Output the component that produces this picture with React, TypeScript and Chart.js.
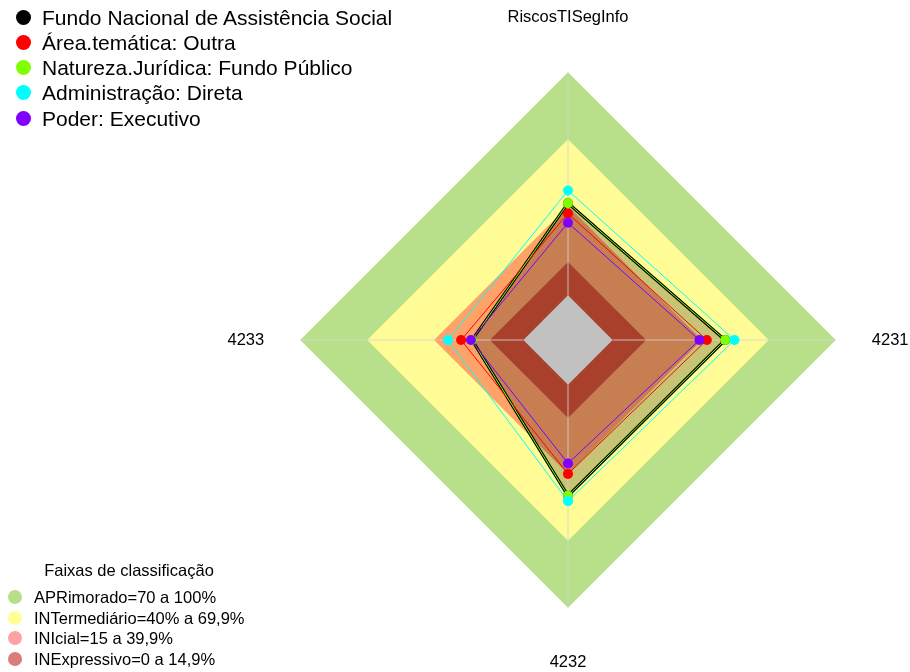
import React, { useEffect, useRef } from 'react';
import { Chart, registerables } from 'chart.js';

Chart.register(...registerables);

// ---- data ----
const axisLabels = ['RiscosTISegInfo', '4231', '4232', '4233'];

const seriesNames = [
  'Fundo Nacional de Assistência Social',
  'Área.temática: Outra',
  'Natureza.Jurídica: Fundo Público',
  'Administração: Direta',
  'Poder: Executivo',
];
const fundoValues = [41.3, 50.4, 49.8, 23.0];
const areaValues = [36.7, 42.2, 40.0, 27.9];
const naturezaValues = [41.3, 50.4, 49.8, 23.0];
const adminValues = [47.0, 54.6, 52.2, 33.8];
const poderValues = [32.5, 38.9, 35.3, 23.5];
const seriesColors = ['#000000', '#FF0000', '#7FFF00', '#00FFFF', '#7F00FF'];

const bandTitle = 'Faixas de classificação';
const bandNames = [
  'APRimorado=70 a 100%',
  'INTermediário=40% a 69,9%',
  'INIcial=15 a 39,9%',
  'INExpressivo=0 a 14,9%',
];
const bandUpper = [100, 70, 40, 15];
const belowZeroUpper = 0;
const scaleMin = -20;
const scaleMax = 100;

// ---- styles ----
const bandFills = ['rgb(184,224,139)', 'rgb(255,252,150)', 'rgb(255,162,104)', 'rgb(168,64,44)'];
const belowZeroFill = 'rgb(192,192,192)';
const bandLegendColors = ['rgb(183,222,136)', 'rgb(255,255,150)', 'rgb(255,162,162)', 'rgb(218,124,124)'];
const labelPadding = [44.4, 36, 44.4, 36];

const FONT = "'Liberation Sans', Arial, Helvetica, sans-serif";
const GREY_INDEX = 9;

const axisLinesPlugin = {
  id: 'axisLines',
  afterDatasetDraw(chart: any, args: any) {
    if (args.index !== GREY_INDEX) return;
    const scale = chart.scales.r;
    const ctx = chart.ctx;
    ctx.save();
    ctx.strokeStyle = 'rgba(210,210,210,0.85)';
    ctx.lineWidth = 1;
    for (let i = 0; i < axisLabels.length; i++) {
      const a = scale.getPointPositionForValue(i, belowZeroUpper);
      const b = scale.getPointPositionForValue(i, scaleMax);
      ctx.beginPath();
      ctx.moveTo(a.x, a.y);
      ctx.lineTo(b.x, b.y);
      ctx.stroke();
    }
    ctx.restore();
  },
};

export default function App() {
  const canvasRef = useRef<HTMLCanvasElement>(null);

  useEffect(() => {
    const canvas = canvasRef.current;
    if (!canvas) return;
    Chart.defaults.font.family = FONT;

    const seriesValues = [fundoValues, areaValues, naturezaValues, adminValues, poderValues];
    const seriesOrder = [9, 4, 3, 2, 1];

    const seriesDatasets = seriesValues.map((vals, i) => ({
      label: seriesNames[i],
      data: vals,
      order: seriesOrder[i],
      borderColor: seriesColors[i],
      backgroundColor: i === 0 ? 'rgba(0,0,0,0.22)' : 'rgba(0,0,0,0)',
      fill: i === 0 ? 'start' : false,
      borderWidth: i === 0 ? 3 : 1,
      pointRadius: 5,
      pointBorderWidth: 0,
      pointBackgroundColor: seriesColors[i],
      pointBorderColor: seriesColors[i],
      tension: 0,
    }));

    const bandOrder = [12, 11, 10, 8];
    const bandDatasets = bandUpper.map((u, i) => ({
      label: bandNames[i],
      data: axisLabels.map(() => u),
      order: bandOrder[i],
      borderWidth: 0,
      borderColor: 'rgba(0,0,0,0)',
      backgroundColor: bandFills[i],
      fill: 'start',
      pointRadius: 0,
      pointHitRadius: 0,
    }));

    const greyDataset = {
      label: 'abaixo de zero',
      data: axisLabels.map(() => belowZeroUpper),
      order: 7,
      borderWidth: 0,
      borderColor: 'rgba(0,0,0,0)',
      backgroundColor: belowZeroFill,
      fill: 'start',
      pointRadius: 0,
      pointHitRadius: 0,
    };

    const chart = new Chart(canvas, {
      type: 'radar',
      data: {
        labels: axisLabels,
        datasets: [...seriesDatasets, ...bandDatasets, greyDataset] as any,
      },
      options: {
        animation: false,
        responsive: false,
        maintainAspectRatio: false,
        events: [],
        layout: { padding: { left: 226, right: 0, top: 8, bottom: 0 } },
        plugins: {
          legend: { display: false },
          tooltip: { enabled: false },
          title: { display: false },
        },
        scales: {
          r: {
            min: scaleMin,
            max: scaleMax,
            ticks: { display: false },
            grid: { display: false },
            angleLines: { display: false },
            pointLabels: {
              display: true,
              color: '#000',
              font: { size: 16.5, family: FONT },
              padding: (ctx: any) => labelPadding[ctx.index],
            },
          },
        },
      } as any,
      plugins: [axisLinesPlugin],
    });

    return () => chart.destroy();
  }, []);

  const topItemCenters = [17, 42.2, 67.5, 92.8, 118];
  const bottomItemCenters = [597, 617.5, 638, 658.5];

  return (
    <div style={{ position: 'fixed', left: 0, top: 0, width: 910, height: 672, background: '#fff', fontFamily: FONT }}>
      <canvas ref={canvasRef} width={910} height={672} style={{ position: 'absolute', left: 0, top: 0 }} />
      {seriesNames.map((name, i) => (
        <div
          key={name}
          style={{
            position: 'absolute',
            left: 0,
            top: topItemCenters[i] - 12.5,
            height: 25,
            lineHeight: '25px',
            whiteSpace: 'nowrap',
            fontSize: 21,
            color: '#000',
          }}
        >
          <span
            style={{
              position: 'absolute',
              left: 15.5,
              top: 5,
              width: 15,
              height: 15,
              borderRadius: '50%',
              background: seriesColors[i],
            }}
          />
          <span style={{ position: 'absolute', left: 42, top: 0 }}>{name}</span>
        </div>
      ))}
      <div
        style={{
          position: 'absolute',
          left: 0,
          width: 258,
          top: 570 - 10,
          height: 20,
          lineHeight: '20px',
          fontSize: 16.5,
          textAlign: 'center',
          whiteSpace: 'nowrap',
          color: '#000',
        }}
      >
        {bandTitle}
      </div>
      {bandNames.map((name, i) => (
        <div
          key={name}
          style={{
            position: 'absolute',
            left: 0,
            top: bottomItemCenters[i] - 10,
            height: 20,
            lineHeight: '20px',
            fontSize: 16.5,
            whiteSpace: 'nowrap',
            color: '#000',
          }}
        >
          <span
            style={{
              position: 'absolute',
              left: 7.5,
              top: 3,
              width: 14,
              height: 14,
              borderRadius: '50%',
              background: bandLegendColors[i],
            }}
          />
          <span style={{ position: 'absolute', left: 34, top: 0 }}>{name}</span>
        </div>
      ))}
    </div>
  );
}
